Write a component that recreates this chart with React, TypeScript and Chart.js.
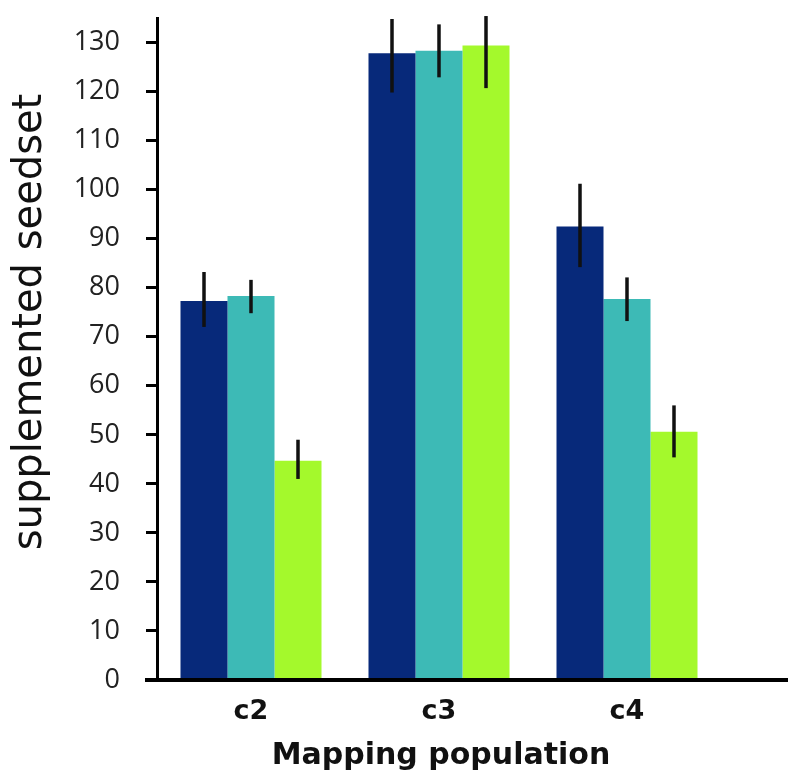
import React, { useEffect, useRef } from "react";
import { Chart, registerables } from "chart.js";

Chart.register(...registerables);

const categories = ["c2", "c3", "c4"];
const seriesNames = ["Series A", "Series B", "Series C"];
const navyValues = [77.3, 127.8, 92.5];
const navyLow = [72.0, 119.8, 84.2];
const navyHigh = [83.2, 134.8, 101.2];
const tealValues = [78.3, 128.3, 77.7];
const tealLow = [74.8, 122.9, 73.2];
const tealHigh = [81.6, 133.7, 82.1];
const greenValues = [44.7, 129.4, 50.6];
const greenLow = [41.0, 120.7, 45.4];
const greenHigh = [49.0, 135.4, 56.0];
const yTicks = [0, 10, 20, 30, 40, 50, 60, 70, 80, 90, 100, 110, 120, 130];
const yTitle = "supplemented seedset";
const xTitle = "Mapping population";

const lows = [navyLow, tealLow, greenLow];
const highs = [navyHigh, tealHigh, greenHigh];

const decorPlugin = {
  id: "decor",
  afterDatasetsDraw(chart: any) {
    const { ctx } = chart;
    const yScale = chart.scales.y;
    ctx.save();
    ctx.strokeStyle = "#111";
    ctx.lineWidth = 3.5;
    ctx.lineCap = "butt";
    chart.data.datasets.forEach((_: any, di: number) => {
      const meta = chart.getDatasetMeta(di);
      meta.data.forEach((el: any, i: number) => {
        const y1 = yScale.getPixelForValue(lows[di][i]);
        const y2 = yScale.getPixelForValue(highs[di][i]);
        ctx.beginPath();
        ctx.moveTo(el.x, y1);
        ctx.lineTo(el.x, y2);
        ctx.stroke();
      });
    });
    ctx.restore();
  },
  afterDraw(chart: any) {
    const { ctx, chartArea } = chart;
    ctx.save();
    ctx.fillStyle = "#000";
    ctx.fillRect(chartArea.left - 12, chartArea.bottom - 2, chart.width - chartArea.left + 12, 4);
    ctx.fillStyle = "#111";
    ctx.font = "40px 'DejaVu Sans'";
    ctx.textAlign = "center";
    ctx.textBaseline = "alphabetic";
    ctx.translate(41, (chartArea.top + chartArea.bottom) / 2 - 27);
    ctx.rotate(-Math.PI / 2);
    ctx.fillText(yTitle, 0, 0);
    ctx.restore();
    ctx.save();
    ctx.fillStyle = "#111";
    ctx.font = "bold 30px 'DejaVu Sans'";
    ctx.textAlign = "center";
    ctx.textBaseline = "alphabetic";
    ctx.fillText(xTitle, (chartArea.left + chartArea.right) / 2 + 2, chartArea.bottom + 84);
    ctx.restore();
  },
};

export default function App() {
  const ref = useRef<HTMLCanvasElement | null>(null);
  useEffect(() => {
    if (!ref.current) return;
    const chart = new Chart(ref.current, {
      type: "bar",
      data: {
        labels: categories,
        datasets: [
          { label: seriesNames[0], data: navyValues, backgroundColor: "#07297a" },
          { label: seriesNames[1], data: tealValues, backgroundColor: "#3dbab6" },
          { label: seriesNames[2], data: greenValues, backgroundColor: "#a4f92c" },
        ],
      },
      options: {
        responsive: false,
        animation: false,
        layout: { padding: { left: 0, right: 67, top: 18, bottom: 0 } },
        plugins: { legend: { display: false }, tooltip: { enabled: false } },
        datasets: { bar: { categoryPercentage: 0.75, barPercentage: 1.0 } },
        scales: {
          x: {
            grid: { display: false, drawTicks: false },
            border: { display: false },
            ticks: {
              color: "#111",
              padding: 16,
              font: { family: "'DejaVu Sans'", size: 27, weight: "bold" },
            },
            afterFit: (axis: any) => {
              axis.height = 95;
              axis.paddingLeft = 0;
              axis.paddingRight = 0;
            },
          },
          y: {
            min: 0,
            max: 135,
            grid: {
              drawOnChartArea: false,
              drawTicks: true,
              tickLength: 11,
              tickWidth: 3,
              tickColor: "#000",
            },
            border: { display: true, width: 3, color: "#000" },
            ticks: {
              stepSize: 10,
              includeBounds: false,
              padding: 26,
              color: "#222",
              font: { family: "'Open Sans'", size: 27 },
            },
            afterBuildTicks: (axis: any) => {
              axis.ticks = yTicks.map((v) => ({ value: v }));
            },
            afterFit: (axis: any) => {
              axis.width = 157;
              axis.paddingTop = 0;
              axis.paddingBottom = 0;
            },
          },
        },
      },
      plugins: [decorPlugin],
    } as any);
    return () => chart.destroy();
  }, []);
  return (
    <div style={{ position: "fixed", left: 0, top: 0, width: 788, height: 775, background: "#fff" }}>
      <canvas ref={ref} width={788} height={775} style={{ display: "block" }} />
    </div>
  );
}
